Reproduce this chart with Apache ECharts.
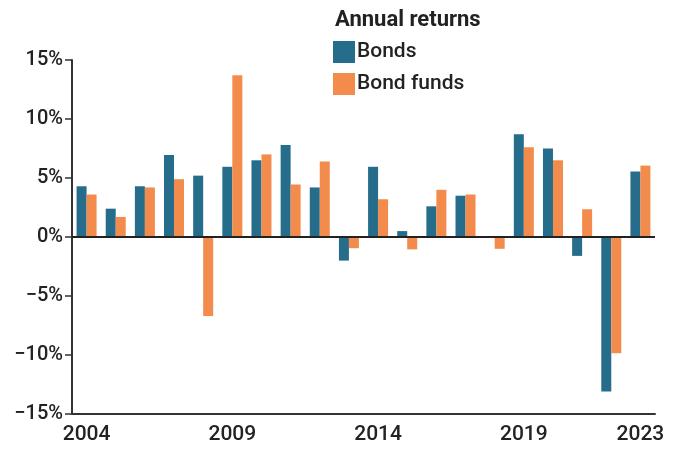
<!DOCTYPE html>
<html>
<head>
<meta charset="utf-8">
<script src="https://cdn.jsdelivr.net/npm/echarts@6/dist/echarts.min.js"></script>
<style>
html,body{margin:0;padding:0;background:#fff;}
#chart{width:680px;height:457px;}
</style>
</head>
<body>
<div id="chart"></div>
<script>
var years = ['2004','2005','2006','2007','2008','2009','2010','2011','2012','2013',
	'2014','2015','2016','2017','2018','2019','2020','2021','2022','2023'];
var bonds = [4.3, 2.4, 4.3, 6.95, 5.2, 5.95, 6.5, 7.8, 4.2, -2.0,
	5.95, 0.5, 2.6, 3.5, 0, 8.7, 7.5, -1.6, -13.1, 5.55];
var bondFunds = [3.6, 1.7, 4.2, 4.9, -6.7, 13.7, 7.0, 4.45, 6.4, -0.95,
	3.2, -1.05, 4.0, 3.6, -1.0, 7.6, 6.5, 2.35, -9.85, 6.05];
var yTicks = [-15, -10, -5, 0, 5, 10, 15];

var FONT = 'Roboto, sans-serif';

function showYear(i)
{
	return i % 5 == 0 || i == years.length - 1;
}

var myChart = echarts.init(document.getElementById('chart'));
var option = {
	backgroundColor: '#fff',
	animation: false,
	title: {
		text: 'Annual returns',
		left: 330,
		top: 4,
		textStyle: { fontFamily: FONT, fontSize: 22, fontWeight: 'bold', color: '#222' }
	},
	legend: {
		orient: 'vertical',
		left: 328,
		top: 36,
		itemWidth: 22,
		itemHeight: 22,
		itemGap: 10,
		icon: 'rect',
		data: ['Bonds', 'Bond funds'],
		textStyle: { fontFamily: FONT, fontSize: 21, fontWeight: 500, color: '#222', padding: [0, 0, 0, -3] }
	},
	grid: { left: 72, right: 25, top: 60, bottom: 43 },
	xAxis: {
		type: 'category',
		data: years,
		axisLine: { onZero: false, lineStyle: { color: '#333', width: 2 } },
		axisTick: { interval: function (i) { return showYear(i); }, alignWithLabel: true, length: 7, lineStyle: { color: '#333', width: 1.5 } },
		axisLabel: {
			interval: function (i) { return showYear(i); },
			fontFamily: FONT, fontSize: 21, fontWeight: 500, color: '#222', margin: 10
		}
	},
	yAxis: {
		type: 'value',
		min: yTicks[0],
		max: yTicks[yTicks.length - 1],
		interval: 5,
		splitLine: { show: false },
		axisLine: { show: true, lineStyle: { color: '#333', width: 2 } },
		axisTick: { show: true, length: 7, lineStyle: { color: '#333', width: 1.5 } },
		axisLabel: {
			fontFamily: FONT, fontSize: 20, fontWeight: 500, color: '#222', margin: 9,
			formatter: function (v) { return (v < 0 ? '\u2212' + (-v) : v) + '%'; }
		}
	},
	series: [
		{
			name: 'Bonds',
			type: 'bar',
			data: bonds,
			barWidth: 10,
			barGap: '0%',
			itemStyle: { color: '#256d8a' },
			markLine: {
				silent: true,
				symbol: 'none',
				label: { show: false },
				lineStyle: { color: '#222', width: 2, type: 'solid' },
				data: [{ yAxis: 0 }]
			}
		},
		{
			name: 'Bond funds',
			type: 'bar',
			data: bondFunds,
			barWidth: 10,
			itemStyle: { color: '#f28b4b' }
		}
	]
};
myChart.setOption(option);
</script>
</body>
</html>
